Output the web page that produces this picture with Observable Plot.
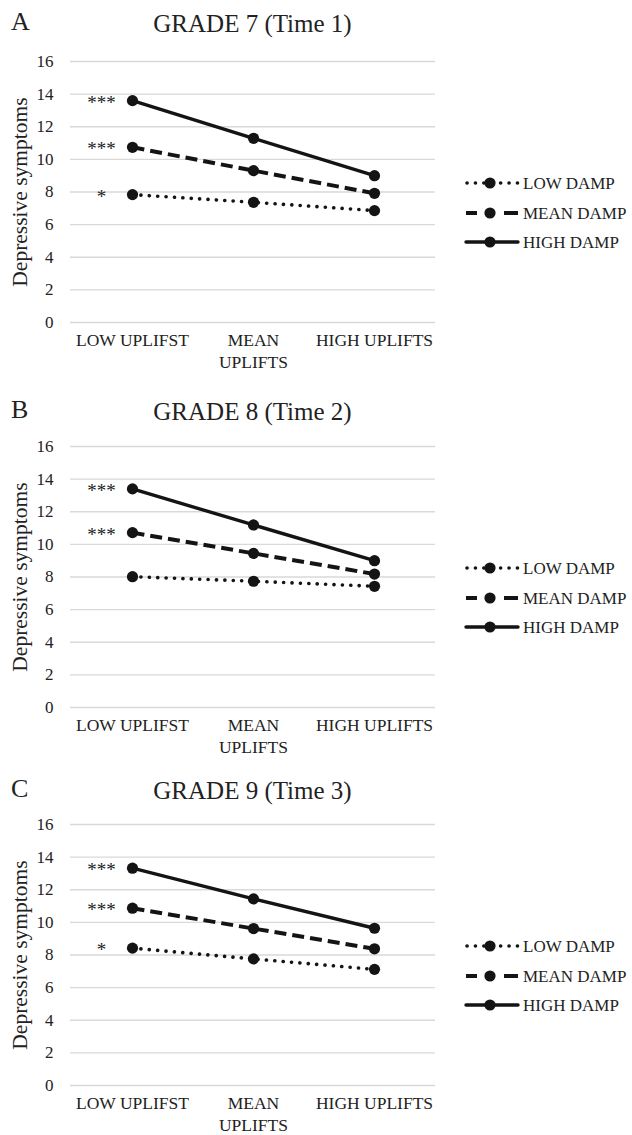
<!DOCTYPE html>
<html>
<head>
<meta charset="utf-8">
<script src="https://cdn.jsdelivr.net/npm/d3@7"></script>
<script src="https://cdn.jsdelivr.net/npm/@observablehq/plot@0.6"></script>
<style>
  html, body { margin: 0; padding: 0; background: #fff; }
  body { font-family: "Liberation Serif", "Times New Roman", serif; color: #222; }
  #root { position: relative; width: 632px; height: 1135px; overflow: hidden; }
  .abs { position: absolute; line-height: 1; white-space: nowrap; }
  .letter { left: 11px; font-size: 26px; }
  .title { left: 70px; width: 365px; text-align: center; font-size: 25px; }
</style>
</head>
<body>
<div id="root"></div>
<script>
// ---------- data ----------
const xCategories = ["LOW UPLIFST", "MEAN UPLIFTS", "HIGH UPLIFTS"];
const xTickLabels = ["LOW UPLIFST", "MEAN\nUPLIFTS", "HIGH UPLIFTS"];
const seriesNames = ["LOW DAMP", "MEAN DAMP", "HIGH DAMP"];
const yTicks = [0, 2, 4, 6, 8, 10, 12, 14, 16];
const panelLetters = ["A", "B", "C"];
const panelTitles = ["GRADE 7 (Time 1)", "GRADE 8 (Time 2)", "GRADE 9 (Time 3)"];
const yLabel = "Depressive symptoms";

const grade7LowDamp  = [7.84, 7.37, 6.86];
const grade7MeanDamp = [10.74, 9.31, 7.92];
const grade7HighDamp = [13.6, 11.29, 9.0];
const grade7Stars    = ["*", "***", "***"];

const grade8LowDamp  = [8.02, 7.74, 7.43];
const grade8MeanDamp = [10.72, 9.45, 8.18];
const grade8HighDamp = [13.4, 11.19, 9.0];
const grade8Stars    = ["", "***", "***"];

const grade9LowDamp  = [8.42, 7.76, 7.12];
const grade9MeanDamp = [10.87, 9.62, 8.38];
const grade9HighDamp = [13.32, 11.44, 9.64];
const grade9Stars    = ["*", "***", "***"];

// ---------- layout / style ----------
const layout = [
  { svgTop: 51,  titleTop: 11,  letterTop: 9 },
  { svgTop: 436, titleTop: 399, letterTop: 397 },
  { svgTop: 814, titleTop: 778, letterTop: 776 }
];
const ink = "#141414";
const fontFamily = '"Liberation Serif", "Times New Roman", serif';
const lineStyles = {
  "LOW DAMP":  { strokeWidth: 3.6, strokeDasharray: "0.1 8.3", strokeLinecap: "round" },
  "MEAN DAMP": { strokeWidth: 4,   strokeDasharray: "12 6",    strokeLinecap: "butt" },
  "HIGH DAMP": { strokeWidth: 3.4, strokeDasharray: null,      strokeLinecap: "round" }
};

const root = document.getElementById("root");

function makePanel(idx, low, mean, high, stars) {
  const L = layout[idx];
  const vals = [low, mean, high];
  const rows = [];
  vals.forEach((v, s) => v.forEach((value, j) => rows.push({ series: seriesNames[s], cat: xCategories[j], value })));
  const starRows = stars
    .map((star, s) => ({ series: seriesNames[s], cat: xCategories[0], value: vals[s][0], star }))
    .filter(d => d.star);

  const lineMarks = seriesNames.map(name => {
    const st = lineStyles[name];
    const opts = { x: "cat", y: "value", stroke: ink, strokeWidth: st.strokeWidth, strokeLinecap: st.strokeLinecap, strokeLinejoin: "round" };
    if (st.strokeDasharray) opts.strokeDasharray = st.strokeDasharray;
    return Plot.line(rows.filter(d => d.series === name), opts);
  });

  const chart = Plot.plot({
    width: 632,
    height: 320,
    marginTop: 10,
    marginBottom: 49,
    marginLeft: 70,
    marginRight: 197,
    style: { fontFamily, fontSize: "17px", color: "#222", background: "transparent", overflow: "visible" },
    x: { type: "point", domain: xCategories, padding: 0.5, label: null },
    y: { domain: [0, 16], label: null },
    marks: [
      Plot.gridY(yTicks, { stroke: "#d9d9d9", strokeOpacity: 1, strokeWidth: 1.3 }),
      Plot.axisY(yTicks, { tickSize: 0, tickPadding: 17, fontSize: 17, label: null }),
      Plot.axisX({ tickSize: 0, tickPadding: 8, fontSize: 17.5, lineHeight: 1.25, label: null,
                   tickFormat: c => xTickLabels[xCategories.indexOf(c)] }),
      Plot.text([yLabel], { frameAnchor: "left", textAnchor: "middle", rotate: -90, dx: -50, fontSize: 21.5, text: d => d, fill: "#222" }),
      ...lineMarks,
      Plot.dot(rows, { x: "cat", y: "value", r: 5.6, fill: ink, stroke: "none" }),
      Plot.text(starRows, { x: "cat", y: "value", text: "star", dx: -31, dy: 2, fontSize: 19, fill: "#222" })
    ]
  });
  chart.style.position = "absolute";
  chart.style.left = "0px";
  chart.style.top = L.svgTop + "px";
  root.appendChild(chart);

  const letter = document.createElement("div");
  letter.className = "abs letter";
  letter.style.top = L.letterTop + "px";
  letter.textContent = panelLetters[idx];
  root.appendChild(letter);

  const title = document.createElement("div");
  title.className = "abs title";
  title.style.top = L.titleTop + "px";
  title.textContent = panelTitles[idx];
  root.appendChild(title);

  // legend
  const gridTop = L.svgTop + 10;
  const legTop = gridTop + 100;
  const svg = d3.create("svg")
    .attr("width", 192).attr("height", 100)
    .style("position", "absolute").style("left", "440px").style("top", legTop + "px")
    .style("overflow", "visible");
  const rowY = [22, 52, 81];
  seriesNames.forEach((name, s) => {
    const st = lineStyles[name];
    const g = svg.append("g").attr("transform", `translate(0,${rowY[s]})`);
    const ln = g.append("line").attr("x1", 26).attr("x2", 78).attr("y1", 0).attr("y2", 0)
      .attr("stroke", ink).attr("stroke-width", st.strokeWidth).attr("stroke-linecap", st.strokeLinecap);
    if (name === "LOW DAMP") ln.attr("x1", 27).attr("stroke-dasharray", "0.1 8.3");
    if (name === "MEAN DAMP") ln.attr("stroke-dasharray", "11 27 14");
    g.append("circle").attr("cx", 50).attr("cy", 0).attr("r", 5.6).attr("fill", ink);
    g.append("text").attr("x", 83).attr("y", 0).attr("dy", "0.35em")
      .attr("font-family", fontFamily).attr("font-size", 17).attr("fill", "#222").text(name);
  });
  root.appendChild(svg.node());
}

makePanel(0, grade7LowDamp, grade7MeanDamp, grade7HighDamp, grade7Stars);
makePanel(1, grade8LowDamp, grade8MeanDamp, grade8HighDamp, grade8Stars);
makePanel(2, grade9LowDamp, grade9MeanDamp, grade9HighDamp, grade9Stars);
</script>
</body>
</html>
